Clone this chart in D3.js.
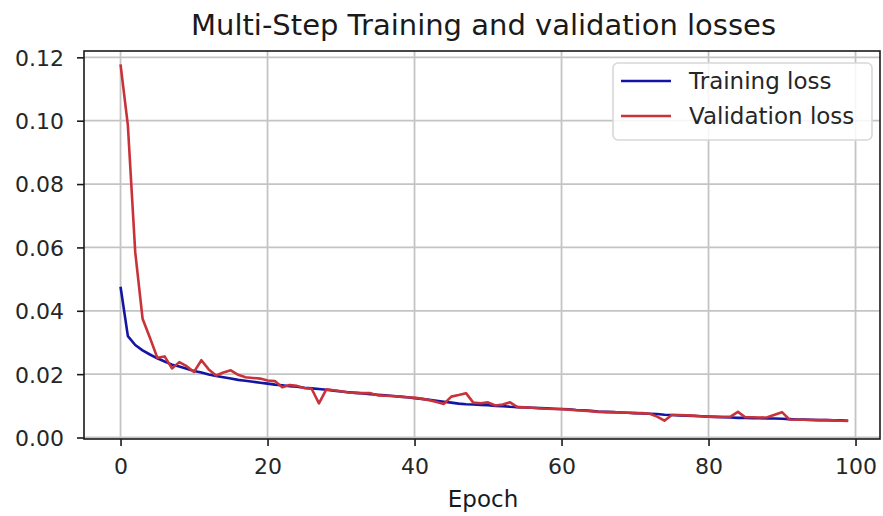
<!DOCTYPE html>
<html>
<head>
<meta charset="utf-8">
<script src="https://cdn.jsdelivr.net/npm/d3@7"></script>
<style>
  html, body { margin: 0; padding: 0; background: #fff; }
  svg { display: block; font-family: "DejaVu Sans", sans-serif; }
</style>
</head>
<body>
<svg id="chart" width="883" height="516"></svg>
<script>
// Loss per epoch (epochs 0..99)
const trainingLoss = [
  0.0476, 0.0320, 0.0292, 0.0275, 0.0262, 0.0250, 0.0240, 0.0230, 0.0224, 0.0217,
  0.0210, 0.0205, 0.0199, 0.0194, 0.0190, 0.0186, 0.0182, 0.0179, 0.0176, 0.0173,
  0.0170, 0.0167, 0.0165, 0.0162, 0.0160, 0.0157, 0.0155, 0.0153, 0.0151, 0.0148,
  0.0145, 0.0143, 0.0141, 0.0139, 0.0137, 0.0135, 0.0133, 0.0131, 0.0129, 0.0127,
  0.0124, 0.0122, 0.0119, 0.0116, 0.0113, 0.0110, 0.0107, 0.0105, 0.0104, 0.0103,
  0.0102, 0.0100, 0.0099, 0.0097, 0.0096, 0.0095, 0.0094, 0.0093, 0.0092, 0.0091,
  0.0090, 0.0089, 0.0087, 0.0086, 0.0084, 0.0082, 0.0081, 0.0080, 0.0079, 0.0078,
  0.0077, 0.0076, 0.0075, 0.0074, 0.0072, 0.0071, 0.0070, 0.0069, 0.0068, 0.0067,
  0.0066, 0.0065, 0.0064, 0.0063, 0.0062, 0.0062, 0.0061, 0.0061, 0.0060, 0.0060,
  0.0059, 0.0058, 0.0057, 0.0057, 0.0056, 0.0055, 0.0055, 0.0054, 0.0054, 0.0053
];
const validationLoss = [
  0.1178, 0.0985, 0.0585, 0.0375, 0.0315, 0.0252, 0.0256, 0.0218, 0.0238, 0.0225,
  0.0207, 0.0244, 0.0215, 0.0196, 0.0205, 0.0212, 0.0198, 0.0190, 0.0188, 0.0186,
  0.0180, 0.0178, 0.0159, 0.0166, 0.0163, 0.0156, 0.0154, 0.0108, 0.0152, 0.0149,
  0.0146, 0.0142, 0.0141, 0.0140, 0.0140, 0.0133, 0.0132, 0.0131, 0.0129, 0.0127,
  0.0126, 0.0122, 0.0118, 0.0112, 0.0106, 0.0129, 0.0134, 0.0140, 0.0110, 0.0108,
  0.0111, 0.0101, 0.0104, 0.0111, 0.0096, 0.0095, 0.0094, 0.0092, 0.0091, 0.0090,
  0.0089, 0.0088, 0.0086, 0.0085, 0.0083, 0.0081, 0.0080, 0.0080, 0.0079, 0.0078,
  0.0077, 0.0077, 0.0075, 0.0066, 0.0053, 0.0071, 0.0071, 0.0070, 0.0069, 0.0067,
  0.0066, 0.0065, 0.0065, 0.0066, 0.0081, 0.0064, 0.0064, 0.0063, 0.0064, 0.0072,
  0.0080, 0.0057, 0.0056, 0.0056, 0.0055, 0.0055, 0.0055, 0.0054, 0.0053, 0.0052
];
const xTicks = [0, 20, 40, 60, 80, 100];
const yTicks = [0.00, 0.02, 0.04, 0.06, 0.08, 0.10, 0.12];
const seriesNames = ["Training loss", "Validation loss"];
const seriesColors = ["#1515a3", "#c8333a"];

const svg = d3.select("#chart");
const plot = { left: 84, right: 880, top: 51, bottom: 439 };

const x = d3.scaleLinear().domain([-4.97, 103.33]).range([plot.left, plot.right]);
const y = d3.scaleLinear().domain([-0.00047, 0.1220]).range([plot.bottom, plot.top]);

// grid lines
const grid = svg.append("g").attr("stroke", "#c4c4c4").attr("stroke-width", 1.8);
grid.selectAll("line.vx").data(xTicks).join("line")
  .attr("x1", d => x(d)).attr("x2", d => x(d))
  .attr("y1", plot.top).attr("y2", plot.bottom);
grid.selectAll("line.hy").data(yTicks).join("line")
  .attr("y1", d => y(d)).attr("y2", d => y(d))
  .attr("x1", plot.left).attr("x2", plot.right);

// loss curves
const epochs = d3.range(trainingLoss.length);
const line = d3.line().x(d => x(d[0])).y(d => y(d[1]));
[trainingLoss, validationLoss].forEach((vals, i) => {
  svg.append("path")
    .datum(epochs.map(e => [e, vals[e]]))
    .attr("fill", "none")
    .attr("stroke", seriesColors[i])
    .attr("stroke-width", 2.6)
    .attr("stroke-linejoin", "round")
    .attr("d", line);
});

// frame
svg.append("rect")
  .attr("x", plot.left).attr("y", plot.top)
  .attr("width", plot.right - plot.left).attr("height", plot.bottom - plot.top)
  .attr("fill", "none").attr("stroke", "#1a1a1a").attr("stroke-width", 1.6);

// axes
const xAxis = svg.append("g")
  .attr("transform", `translate(0,${plot.bottom})`)
  .call(d3.axisBottom(x).tickValues(xTicks).tickFormat(d3.format("d")).tickSize(7).tickPadding(7));
const yAxis = svg.append("g")
  .attr("transform", `translate(${plot.left},0)`)
  .call(d3.axisLeft(y).tickValues(yTicks).tickFormat(d3.format(".2f")).tickSize(7).tickPadding(13));
[xAxis, yAxis].forEach(g => {
  g.select(".domain").remove();
  g.selectAll(".tick line").attr("stroke", "#1a1a1a").attr("stroke-width", 1.6);
  g.selectAll(".tick text").attr("fill", "#262626")
    .style("font-family", "DejaVu Sans, sans-serif").style("font-size", "22px");
});
xAxis.selectAll(".tick text").attr("dy", "0.95em");
yAxis.selectAll(".tick text").attr("dy", "0.36em");

// title and axis label
svg.append("text")
  .attr("x", 483.5).attr("y", 35)
  .attr("text-anchor", "middle").attr("fill", "#1a1a1a")
  .style("font-size", "29px")
  .text("Multi-Step Training and validation losses");
svg.append("text")
  .attr("x", 483).attr("y", 507)
  .attr("text-anchor", "middle").attr("fill", "#1a1a1a")
  .style("font-size", "23px")
  .text("Epoch");

// legend
const legend = svg.append("g").attr("transform", "translate(613,63)");
legend.append("rect")
  .attr("width", 259).attr("height", 77).attr("rx", 5)
  .attr("fill", "rgba(255,255,255,0.85)").attr("stroke", "#d8d8d8").attr("stroke-width", 1.6);
seriesNames.forEach((name, i) => {
  const cy = 18 + i * 35;
  legend.append("line")
    .attr("x1", 8).attr("x2", 58).attr("y1", cy).attr("y2", cy)
    .attr("stroke", seriesColors[i]).attr("stroke-width", 2.6);
  legend.append("text")
    .attr("x", 76).attr("y", cy).attr("dy", "0.36em")
    .attr("fill", "#262626").style("font-size", "23px")
    .text(name);
});
</script>
</body>
</html>
